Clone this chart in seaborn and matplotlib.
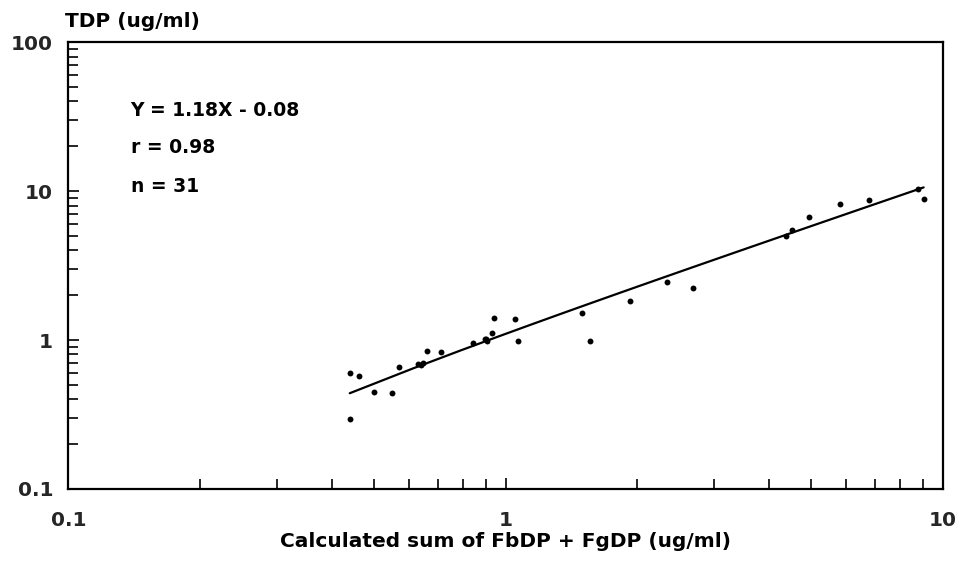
import numpy as np
import pandas as pd
import matplotlib
matplotlib.use("Agg")
import matplotlib.pyplot as plt
import seaborn as sns
from matplotlib.ticker import LogLocator, FixedLocator, NullFormatter, FixedFormatter

# Data (log-log scatter)
fdp_sum = [0.440, 0.461, 0.501, 0.551, 0.571, 0.632, 0.648, 0.640, 0.660, 0.710,
           0.841, 0.897, 0.908, 0.900, 0.929, 0.939, 1.049, 1.069, 0.440, 1.494,
           1.556, 1.930, 2.338, 2.690, 4.380, 4.510, 4.950, 5.820, 6.790, 8.760,
           9.040]
tdp = [0.596, 0.577, 0.445, 0.443, 0.659, 0.695, 0.700, 0.680, 0.845, 0.827,
       0.956, 1.010, 0.980, 1.020, 1.116, 1.410, 1.390, 0.980, 0.294, 1.515,
       0.978, 1.820, 2.450, 2.230, 5.010, 5.520, 6.730, 8.190, 8.690, 10.30,
       8.870]

slope = 1.18
intercept = -0.08

x_ticks = [0.1, 1, 10]
x_tick_labels = ["0.1", "1", "10"]
y_ticks = [0.1, 1, 10, 100]
y_tick_labels = ["0.1", "1", "10", "100"]

annotations = ["Y = 1.18X - 0.08", "r = 0.98", "n = 31"]

df = pd.DataFrame({"x": fdp_sum, "y": tdp})
xfit = np.linspace(min(fdp_sum), max(fdp_sum), 50)
fit = pd.DataFrame({"x": xfit, "y": slope * xfit + intercept})

sns.set_theme(style="white")
plt.rcParams["font.family"] = ["DejaVu Sans"]

fig = plt.figure(figsize=(9.64, 5.62), dpi=100)
ax = fig.add_axes([0.071, 0.130, 0.907, 0.795])

sns.scatterplot(data=df, x="x", y="y", ax=ax, color="black", s=18,
                edgecolor="black", linewidth=0, zorder=3)
sns.lineplot(data=fit, x="x", y="y", ax=ax, color="black", linewidth=1.6,
             zorder=2)

ax.set_xscale("log")
ax.set_yscale("log")
ax.set_xlim(0.1, 10)
ax.set_ylim(0.1, 100)

ax.xaxis.set_major_locator(FixedLocator(x_ticks))
ax.xaxis.set_major_formatter(FixedFormatter(x_tick_labels))
ax.yaxis.set_major_locator(FixedLocator(y_ticks))
ax.yaxis.set_major_formatter(FixedFormatter(y_tick_labels))
ax.xaxis.set_minor_locator(LogLocator(base=10, subs=np.arange(2, 10), numticks=20))
ax.yaxis.set_minor_locator(LogLocator(base=10, subs=np.arange(2, 10), numticks=20))
ax.xaxis.set_minor_formatter(NullFormatter())
ax.yaxis.set_minor_formatter(NullFormatter())

fs = 14.5
ax.tick_params(axis="both", which="both", direction="in", color="black",
               width=1.2, bottom=True, left=True, top=False, right=False)
ax.tick_params(axis="both", which="major", length=8)
ax.tick_params(axis="both", which="minor", length=7)
ax.tick_params(axis="x", which="major", pad=16, labelsize=fs)
ax.tick_params(axis="y", which="major", pad=11, labelsize=fs)
for lab in ax.get_xticklabels() + ax.get_yticklabels():
    lab.set_fontweight("bold")

for sp in ax.spines.values():
    sp.set_visible(True)
    sp.set_color("black")
    sp.set_linewidth(1.6)

ax.set_xlabel("Calculated sum of FbDP + FgDP (ug/ml)", fontsize=fs,
              fontweight="bold", labelpad=1, color="black")
ax.set_ylabel("")
fig.text(0.067, 0.962, "TDP (ug/ml)", fontsize=fs, fontweight="bold",
         ha="left", va="center", color="black")

ypos = [0.848, 0.765, 0.676]
for txt, yp in zip(annotations, ypos):
    ax.text(0.071, yp, txt, transform=ax.transAxes, fontsize=13.5,
            fontweight="bold", ha="left", va="center", color="black")

fig.savefig("out.png", dpi=100, facecolor="white")
